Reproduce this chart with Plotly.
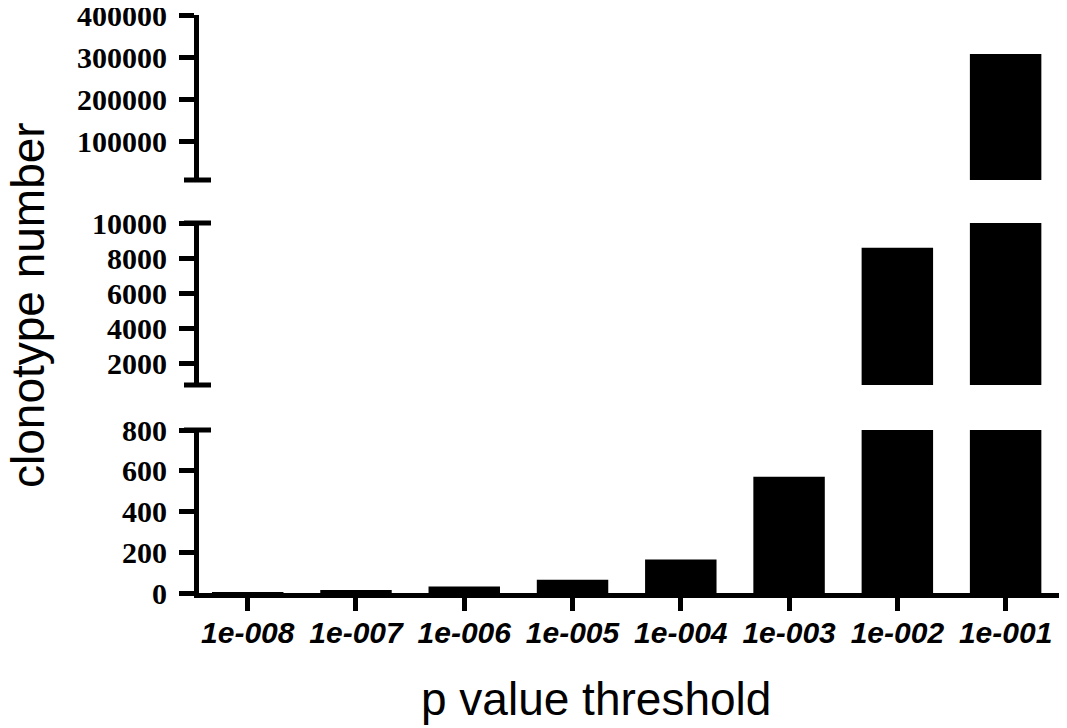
import plotly.graph_objects as go

categories = ["1e-008", "1e-007", "1e-006", "1e-005", "1e-004", "1e-003", "1e-002", "1e-001"]
values = [4, 15, 32, 65, 165, 570, 8600, 308000]

low_ticks = [0, 200, 400, 600, 800]
mid_ticks = [2000, 4000, 6000, 8000, 10000]
top_ticks = [100000, 200000, 300000, 400000]

low_range = [0, 800]
mid_range = [800, 10000]
top_range = [10000, 400000]

# page body has an 8px margin; figure is sized so it fills the 1067x728 window
OFF = 8
W, H = 1067 - OFF, 728 - OFF
ML, MR, MT, MB = 199 - OFF, 4, 15 - OFF, 135
plot_h = H - MT - MB
plot_w = W - ML - MR


def py(px):
    """reference-picture pixel row -> paper y"""
    return (H - MB - (px - OFF)) / plot_h


def px_(px):
    """reference-picture pixel column -> paper x"""
    return ((px - OFF) - ML) / plot_w


def dom(top_px, bot_px):
    return [py(bot_px), py(top_px)]


fig = go.Figure()
x_idx = list(range(len(categories)))
for ya, rng in [("y", low_range), ("y2", mid_range), ("y3", top_range)]:
    seg_vals = [v if v > rng[0] else None for v in values]
    fig.add_trace(go.Bar(x=x_idx, y=seg_vals, yaxis=ya, width=0.66,
                         marker=dict(color="black", line=dict(width=0)),
                         showlegend=False, hoverinfo="x+y"))

ytick_font = dict(family="Liberation Serif", size=30, color="black", weight="bold")
common_y = dict(showgrid=False, zeroline=False, showline=True, linecolor="black",
                linewidth=5, ticks="outside", ticklen=15, tickwidth=5,
                tickcolor="black", tickfont=ytick_font, anchor="x",
                ticklabelstandoff=6, tickformat="d", automargin=False,
                ticklabeloverflow="allow")

fig.update_layout(
    width=W, height=H,
    margin=dict(l=ML, r=MR, t=MT, b=MB, autoexpand=False),
    plot_bgcolor="white", paper_bgcolor="white",
    xaxis=dict(range=[-0.45, 7.53], tickmode="array", tickvals=x_idx,
               ticktext=categories, showgrid=False, zeroline=False,
               showline=True, linecolor="black", linewidth=5,
               ticks="outside", ticklen=13, tickwidth=5, tickcolor="black",
               tickfont=dict(family="Liberation Sans", size=30, color="black",
                             weight="bold", style="italic"),
               ticklabelstandoff=-4, anchor="y", automargin=False,
               ticklabeloverflow="allow"),
    yaxis=dict(domain=dom(430, 593), range=low_range, tickvals=low_ticks,
               **common_y),
    yaxis2=dict(domain=dom(223, 385), range=mid_range, tickvals=mid_ticks,
                **common_y),
    yaxis3=dict(domain=dom(15, 180), range=top_range, tickvals=top_ticks,
                **common_y),
)

# break caps at segment ends
cap_l = -15 / plot_w
cap_r = 12 / plot_w
for yref, ypos in [("y3 domain", 0), ("y2 domain", 0), ("y2 domain", 1), ("y domain", 1)]:
    fig.add_shape(type="line", xref="x domain", yref=yref,
                  x0=cap_l, x1=cap_r, y0=ypos, y1=ypos,
                  line=dict(color="black", width=5))

fig.add_annotation(text="clonotype number", xref="paper", yref="paper",
                   x=px_(28), y=py(305),
                   textangle=-90, showarrow=False, xanchor="center", yanchor="middle",
                   font=dict(family="Liberation Sans", size=46, color="black"))
fig.add_annotation(text="p value threshold", xref="paper", yref="paper",
                   x=px_(596), y=py(699),
                   showarrow=False, xanchor="center", yanchor="middle",
                   font=dict(family="Liberation Sans", size=46, color="black"))

fig.write_html("out.html")
